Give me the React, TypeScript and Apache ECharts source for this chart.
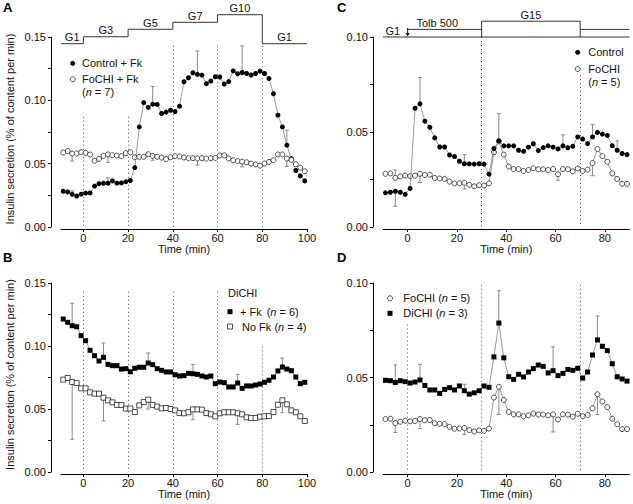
import React, { useEffect, useRef } from "react";
import * as echarts from "echarts";

const FONT = "'Liberation Sans', Arial, Helvetica, sans-serif";

// sampling times (min)
const timeAB = [-9, -7, -5, -3, -1, 1, 3, 5, 7, 9, 11, 13, 15, 17, 19, 21, 23, 25, 27, 29, 31, 33, 35, 37, 39, 41, 43, 45, 47, 49, 51, 53, 55, 57, 59, 61, 63, 65, 67, 69, 71, 73, 75, 77, 79, 81, 83, 85, 87, 89, 91, 93, 95, 97, 99];
const timeCD = [-9, -7, -5, -3, -1, 1, 3, 5, 7, 9, 11, 13, 15, 17, 19, 21, 23, 25, 27, 29, 31, 33, 35, 37, 39, 41, 43, 45, 47, 49, 51, 53, 55, 57, 59, 61, 63, 65, 67, 69, 71, 73, 75, 77, 79, 81, 83, 85, 87, 89];

// Panel A
const controlFkA = [
  0.0282, 0.0277, 0.0258, 0.0245, 0.0259, 0.0268, 0.0269, 0.0323, 0.0342, 0.0345,
  0.0346, 0.0364, 0.0346, 0.0348, 0.0358, 0.0367, 0.0469, 0.079, 0.0982, 0.0944,
  0.097, 0.0968, 0.0896, 0.0907, 0.0922, 0.0911, 0.0954, 0.1147, 0.1178, 0.1218,
  0.1205, 0.1199, 0.1132, 0.1152, 0.1186, 0.1184, 0.1129, 0.1148, 0.1232, 0.121,
  0.122, 0.1212, 0.12, 0.1212, 0.123, 0.1212, 0.1172, 0.1052, 0.0883, 0.079,
  0.0646, 0.054, 0.0446, 0.0403, 0.0364,
];
const fochiFkA = [
  0.0588, 0.06, 0.058, 0.058, 0.059, 0.0585, 0.0572, 0.0522, 0.0538, 0.0562,
  0.0573, 0.0567, 0.0564, 0.0559, 0.0583, 0.059, 0.055, 0.0554, 0.0554, 0.0574,
  0.0562, 0.0554, 0.0548, 0.0536, 0.055, 0.0559, 0.0557, 0.0549, 0.0543, 0.0543,
  0.0541, 0.0543, 0.054, 0.0543, 0.0545, 0.0565, 0.0566, 0.0541, 0.0527, 0.052,
  0.0516, 0.0511, 0.05, 0.0494, 0.0484, 0.0501, 0.0514, 0.0527, 0.0573, 0.0573,
  0.054, 0.053, 0.0496, 0.0468, 0.044,
];
const errControlA = [[-5, 0.0285], [11, 0.0388], [31, 0.111], [51, 0.139], [71, 0.143], [91, 0.0765]];
const errFochiA = [[-5, 0.052], [11, 0.051], [31, 0.0527], [51, 0.0488], [71, 0.0474], [91, 0.0478]];

// Panel B
const diFkB = [
  0.1214, 0.1188, 0.1161, 0.1153, 0.1082, 0.1042, 0.0966, 0.0923, 0.0881, 0.091,
  0.0854, 0.0844, 0.0844, 0.0817, 0.082, 0.0796, 0.0823, 0.0831, 0.0831, 0.0865,
  0.0852, 0.082, 0.0807, 0.0794, 0.0794, 0.0772, 0.0762, 0.0765, 0.0783, 0.078,
  0.0775, 0.0762, 0.0754, 0.0762, 0.0701, 0.0714, 0.0709, 0.0675, 0.0675, 0.0706,
  0.0664, 0.0683, 0.0683, 0.069, 0.0698, 0.0712, 0.0728, 0.0754, 0.0802, 0.0833,
  0.0817, 0.0804, 0.0754, 0.0701, 0.0712,
];
const diNoFkB = [
  0.0733, 0.0746, 0.0714, 0.0706, 0.0664, 0.0664, 0.0632, 0.0622, 0.0622, 0.059,
  0.0569, 0.0553, 0.0532, 0.0532, 0.0503, 0.0503, 0.0476, 0.0529, 0.0556, 0.0574,
  0.0532, 0.0519, 0.0505, 0.0508, 0.05, 0.0489, 0.0468, 0.0466, 0.0474, 0.0497,
  0.0497, 0.0495, 0.0468, 0.0458, 0.0442, 0.0466, 0.0474, 0.0474, 0.0474, 0.0466,
  0.0458, 0.0434, 0.0429, 0.0429, 0.0439, 0.0442, 0.0444, 0.0476, 0.0534, 0.0569,
  0.0537, 0.0489, 0.0474, 0.0442, 0.0405,
];
const errFkB = [[-5, 0.134], [9, 0.1024], [29, 0.0944], [49, 0.0854], [69, 0.0775], [89, 0.0905]];
const errNoFkB = [[-5, 0.026], [9, 0.0405], [29, 0.05], [49, 0.0415], [69, 0.0378], [89, 0.0471]];

// Panel C
const controlC = [
  0.018, 0.0183, 0.0188, 0.0183, 0.0172, 0.0203, 0.0625, 0.0648, 0.0557, 0.0525,
  0.0469, 0.0421, 0.0421, 0.0379, 0.0371, 0.0346, 0.0333, 0.0332, 0.0331, 0.0333,
  0.0331, 0.0278, 0.0413, 0.0453, 0.0427, 0.0427, 0.0427, 0.0404, 0.0398, 0.042,
  0.0438, 0.0402, 0.0418, 0.0427, 0.042, 0.0411, 0.0427, 0.0417, 0.0425, 0.0474,
  0.0463, 0.0439, 0.0474, 0.0498, 0.0489, 0.0482, 0.0428, 0.0404, 0.0387, 0.0381,
];
const fochiCD = [
  0.028, 0.0282, 0.0259, 0.0266, 0.0271, 0.0268, 0.027, 0.028, 0.0274, 0.0275,
  0.0258, 0.0255, 0.0253, 0.0239, 0.0229, 0.023, 0.0233, 0.0222, 0.0214, 0.022,
  0.0218, 0.023, 0.0394, 0.0451, 0.0381, 0.0318, 0.0305, 0.0305, 0.0295, 0.03,
  0.0309, 0.0304, 0.0304, 0.03, 0.0305, 0.0278, 0.0305, 0.0304, 0.0293, 0.0308,
  0.0295, 0.0302, 0.0337, 0.0411, 0.0373, 0.0343, 0.0282, 0.0253, 0.0227, 0.0227,
];
const errControlC = [[-5, 0.0109], [5, 0.0787], [23, 0.0381], [37, 0.0598], [63, 0.0485], [75, 0.054], [85, 0.0453]];
const errFochiC = [[-5, 0.03], [5, 0.0234], [23, 0.02], [61, 0.0246], [75, 0.027]];

// Panel D
const dichiD = [
  0.0485, 0.0483, 0.0474, 0.0483, 0.0478, 0.0471, 0.0476, 0.0487, 0.0458, 0.0434,
  0.0434, 0.0416, 0.0437, 0.0446, 0.0434, 0.0455, 0.043, 0.0412, 0.0419, 0.043,
  0.0455, 0.0448, 0.0609, 0.0788, 0.0604, 0.0504, 0.049, 0.0517, 0.0503, 0.0529,
  0.0547, 0.0566, 0.0559, 0.0524, 0.0536, 0.051, 0.0522, 0.0543, 0.0538, 0.0549,
  0.0497, 0.0529, 0.0619, 0.0699, 0.0665, 0.0642, 0.0573, 0.0504, 0.0492, 0.0481,
];
const errFochiD = [[-5, 0.0209], [5, 0.023], [23, 0.0198], [37, 0.0304], [59, 0.0212], [77, 0.0304]];
const errDichiD = [[-5, 0.0566], [5, 0.057], [23, 0.0464], [37, 0.0959], [59, 0.0662], [77, 0.0825]];

// tick values
const xTicksAB = [0, 20, 40, 60, 80, 100];
const xTicksCD = [0, 20, 40, 60, 80];
const yTicks15 = [0, 0.025, 0.05, 0.075, 0.1, 0.125, 0.15];
const yLabels15 = [0, 0.05, 0.1, 0.15];
const yTicks10 = [0, 0.025, 0.05, 0.075, 0.1];
const yLabels10 = [0, 0.05, 0.1];

// protocol annotations (axis units)
const glucoseStepsA = [[-10, 0.1447], [0, 0.1447], [0, 0.1502], [20, 0.1502], [20, 0.1561], [40, 0.1561], [40, 0.1616], [60, 0.1616], [60, 0.1676], [80, 0.1676], [80, 0.1447], [100, 0.1447]];
const glucoseLabelsA: [string, number, number][] = [["G1", -5, 0.1447], ["G3", 10, 0.1502], ["G5", 30, 0.1561], ["G7", 50, 0.1616], ["G10", 70, 0.1676], ["G1", 90, 0.1447]];
const baseLineC = [[-10, 0.1], [90, 0.1]];
const tolbLineC1 = [[0, 0.104], [30, 0.104]];
const tolbLineC2 = [[70, 0.104], [90, 0.104]];
const g15BoxC = [[30, 0.1], [30, 0.1083], [70, 0.1083], [70, 0.1]];
const labelsC: [string, number, number][] = [["G1", -6, 0.1], ["Tolb 500", 12, 0.104], ["G15", 50, 0.1083]];

// dotted markers [time, top value]
const dottedA = [[0, 0.087], [20, 0.087], [40, 0.143], [60, 0.143], [80, 0.143]];
const dottedB = [[0, 0.143], [20, 0.143], [40, 0.143], [60, 0.143], [80, 0.0997]];
const dottedC = [[0, 0.102], [30, 0.1], [70, 0.08]];
const dottedD = [[0, 0.078], [30, 0.099], [70, 0.099]];

const pairs = (t: number[], v: number[]) => t.map((x, i) => [x, v[i]]);
const errData = (t: number[], v: number[], e: number[][]) =>
  e.map(([x, end]) => [x, v[t.indexOf(x)], end]);

const GRIDS = [
  { left: 61, top: 37, width: 246, height: 190 }, // A
  { left: 61, top: 283, width: 246, height: 189 }, // B
  { left: 383, top: 37, width: 246.5, height: 190 }, // C
  { left: 383, top: 283, width: 246.5, height: 189 }, // D
];

function xAxisFor(gi: number, max: number, ticks: number[]) {
  return {
    gridIndex: gi,
    type: "value",
    min: -10,
    max,
    offset: 2,
    axisLine: { show: true, onZero: false, lineStyle: { color: "#000", width: 1 } },
    axisTick: { show: true, length: 3, customValues: ticks, lineStyle: { color: "#000", width: 1 } },
    axisLabel: { customValues: ticks, margin: 3, fontSize: 11, color: "#111", fontFamily: FONT },
    splitLine: { show: false },
  };
}
function yAxisFor(gi: number, max: number, ticks: number[], labels: number[]) {
  return {
    gridIndex: gi,
    type: "value",
    min: 0,
    max,
    offset: 10,
    axisLine: { show: true, onZero: false, lineStyle: { color: "#000", width: 1 } },
    axisTick: { show: true, length: 3, customValues: ticks, lineStyle: { color: "#000", width: 1 } },
    axisLabel: {
      customValues: labels,
      margin: 5,
      fontSize: 11,
      color: "#111",
      fontFamily: FONT,
      formatter: (v: number) => v.toFixed(2),
    },
    splitLine: { show: false },
  };
}

function dataSeries(gi: number, t: number[], v: number[], symbol: string, filled: boolean, z: number, dotted?: number[][]) {
  const s: any = {
    type: "line",
    xAxisIndex: gi,
    yAxisIndex: gi,
    data: pairs(t, v),
    symbol,
    symbolSize: 5,
    showSymbol: true,
    silent: true,
    z,
    lineStyle: { color: "#808080", width: 0.8 },
    itemStyle: filled
      ? { color: "#000", borderColor: "#000", borderWidth: 0 }
      : { color: "#fff", borderColor: "#222", borderWidth: 0.8 },
    emphasis: { disabled: true },
  };
  if (dotted) {
    s.markLine = {
      silent: true,
      symbol: ["none", "none"],
      label: { show: false },
      lineStyle: { type: [1, 3], color: "#555", width: 1 },
      data: dotted.map(([x, top]) => [{ coord: [x, top] }, { coord: [x, 0] }]),
      z: 1,
    };
  }
  return s;
}

function errSeries(gi: number, data: number[][]) {
  return {
    type: "custom",
    xAxisIndex: gi,
    yAxisIndex: gi,
    data,
    silent: true,
    z: 1,
    encode: { x: 0, y: [1, 2] },
    renderItem: (_p: any, api: any) => {
      const x = api.value(0);
      const p1 = api.coord([x, api.value(1)]);
      const p2 = api.coord([x, api.value(2)]);
      const st = { stroke: "#8a8a8a", lineWidth: 1 };
      return {
        type: "group",
        children: [
          { type: "line", shape: { x1: p1[0], y1: p1[1], x2: p2[0], y2: p2[1] }, style: st },
          { type: "line", shape: { x1: p2[0] - 2, y1: p2[1], x2: p2[0] + 2, y2: p2[1] }, style: st },
        ],
      };
    },
  };
}

function annotLine(gi: number, data: number[][]) {
  return {
    type: "line",
    xAxisIndex: gi,
    yAxisIndex: gi,
    data,
    symbol: "none",
    silent: true,
    clip: false,
    z: 3,
    lineStyle: { color: "#333", width: 1 },
    emphasis: { disabled: true },
  };
}

export default function App() {
  const ref = useRef<HTMLDivElement>(null);
  useEffect(() => {
    if (!ref.current) return;
    const chart = echarts.init(ref.current, undefined, { renderer: "svg" });
    const option: any = {
      animation: false,
      textStyle: { fontFamily: FONT },
      grid: GRIDS,
      xAxis: [xAxisFor(0, 100, xTicksAB), xAxisFor(1, 100, xTicksAB), xAxisFor(2, 90, xTicksCD), xAxisFor(3, 90, xTicksCD)],
      yAxis: [
        yAxisFor(0, 0.15, yTicks15, yLabels15),
        yAxisFor(1, 0.15, yTicks15, yLabels15),
        yAxisFor(2, 0.1, yTicks10, yLabels10),
        yAxisFor(3, 0.1, yTicks10, yLabels10),
      ],
      series: [
        // A
        errSeries(0, errData(timeAB, controlFkA, errControlA)),
        errSeries(0, errData(timeAB, fochiFkA, errFochiA)),
        dataSeries(0, timeAB, controlFkA, "circle", true, 4, dottedA),
        dataSeries(0, timeAB, fochiFkA, "circle", false, 5),
        annotLine(0, glucoseStepsA),
        // B
        errSeries(1, errData(timeAB, diFkB, errFkB)),
        errSeries(1, errData(timeAB, diNoFkB, errNoFkB)),
        dataSeries(1, timeAB, diFkB, "rect", true, 4, dottedB),
        dataSeries(1, timeAB, diNoFkB, "rect", false, 5),
        // C
        errSeries(2, errData(timeCD, controlC, errControlC)),
        errSeries(2, errData(timeCD, fochiCD, errFochiC)),
        dataSeries(2, timeCD, fochiCD, "circle", false, 4, dottedC),
        dataSeries(2, timeCD, controlC, "circle", true, 5),
        annotLine(2, baseLineC),
        annotLine(2, tolbLineC1),
        annotLine(2, tolbLineC2),
        annotLine(2, g15BoxC),
        // D
        errSeries(3, errData(timeCD, fochiCD, errFochiD)),
        errSeries(3, errData(timeCD, dichiD, errDichiD)),
        dataSeries(3, timeCD, fochiCD, "circle", false, 4, dottedD),
        dataSeries(3, timeCD, dichiD, "rect", true, 5),
      ],
    };
    chart.setOption(option);

    const px = (gi: number, t: number, v: number) => chart.convertToPixel({ gridIndex: gi } as any, [t, v]) as number[];
    const txt = (text: string, x: number, y: number, extra: any = {}) => ({
      type: "text",
      x,
      y,
      silent: true,
      z: 10,
      style: {
        text,
        fontSize: 11,
        fontFamily: FONT,
        fill: "#111",
        align: "left",
        verticalAlign: "middle",
        rich: { i: { fontStyle: "italic", fontSize: 11, fontFamily: FONT, fill: "#111" } },
        ...extra,
      },
    });
    const marker = (shape: string, filled: boolean, x: number, y: number) =>
      shape === "circle"
        ? {
            type: "circle",
            z: 10,
            shape: { cx: x, cy: y, r: 2.5 },
            style: { fill: filled ? "#000" : "#fff", stroke: filled ? "#000" : "#222", lineWidth: filled ? 0 : 0.8 },
          }
        : {
            type: "rect",
            z: 10,
            shape: { x: x - 2.5, y: y - 2.5, width: 5, height: 5 },
            style: { fill: filled ? "#000" : "#fff", stroke: filled ? "#000" : "#222", lineWidth: filled ? 0 : 0.8 },
          };

    const g: any[] = [];
    // panel letters
    const letter = { fontSize: 13, fontWeight: "bold", fill: "#000" };
    g.push(txt("A", 3, 7, letter), txt("B", 3, 257, letter), txt("C", 337, 7, letter), txt("D", 337, 257, letter));
    // y titles
    const yTitle = "Insulin secretion (% of content per min)";
    for (const gi of [0, 1]) {
      const a = px(gi, 0, 0)[1];
      const b = px(gi, 0, 0.15)[1];
      g.push({ ...txt(yTitle, 10, (a + b) / 2 - 3, { align: "center" }), rotation: Math.PI / 2 });
    }
    // x titles
    for (const [gi, lo, hi] of [[0, -10, 100], [1, -10, 100], [2, -10, 90], [3, -10, 90]]) {
      const y0 = px(gi, 0, 0)[1];
      const xc = (px(gi, lo, 0)[0] + px(gi, hi, 0)[0]) / 2;
      g.push(txt("Time (min)", xc, y0 + 22, { align: "center" }));
    }
    // glucose step labels A
    for (const [s, t, v] of glucoseLabelsA) {
      const p = px(0, t, v);
      g.push(txt(s, p[0], p[1] - 1, { align: "center", verticalAlign: "bottom" }));
    }
    // C protocol labels
    for (const [s, t, v] of labelsC) {
      const p = px(2, t, v);
      g.push(txt(s, p[0], p[1] - 1, { align: "center", verticalAlign: "bottom" }));
    }
    // arrow at Tolb addition
    {
      const p = px(2, 0, 0.1);
      g.push({ type: "line", z: 10, shape: { x1: p[0], y1: p[1] - 9, x2: p[0], y2: p[1] - 2 }, style: { stroke: "#111", lineWidth: 1 } });
      g.push({ type: "polygon", z: 10, shape: { points: [[p[0] - 2, p[1] - 4], [p[0] + 2, p[1] - 4], [p[0], p[1] - 0.5]] }, style: { fill: "#111" } });
    }
    // legends
    g.push(marker("circle", true, 72.7, 63.3), txt("Control + Fk", 82, 63.3));
    g.push(marker("circle", false, 72.7, 79.3), txt("FoCHI + Fk", 82, 79.3));
    g.push(txt("({i|n} = 7)", 82, 91.5));

    g.push(marker("circle", true, 577.7, 52.3), txt("Control", 588.3, 52.3));
    g.push(marker("circle", false, 577.7, 69), txt("FoCHI", 588.3, 69));
    g.push(txt("({i|n} = 5)", 588.3, 82.3));

    g.push(txt("DiCHI", 228, 293.3));
    g.push(marker("rect", true, 230, 311.7), txt("+ Fk", 240, 311.7), txt("({i|n} = 6)", 266.7, 311.7));
    g.push(marker("rect", false, 230, 326.5), txt("No Fk ({i|n} = 4)", 242, 326.5));

    g.push(marker("circle", false, 390, 298.3), txt("FoCHI ({i|n} = 5)", 403.3, 298.3));
    g.push(marker("rect", true, 390, 313.3), txt("DiCHI ({i|n} = 3)", 403.3, 313.3));

    chart.setOption({ graphic: g });
    return () => chart.dispose();
  }, []);
  return <div ref={ref} style={{ position: "fixed", left: 0, top: 0, width: 633, height: 504, background: "#fff" }} />;
}
